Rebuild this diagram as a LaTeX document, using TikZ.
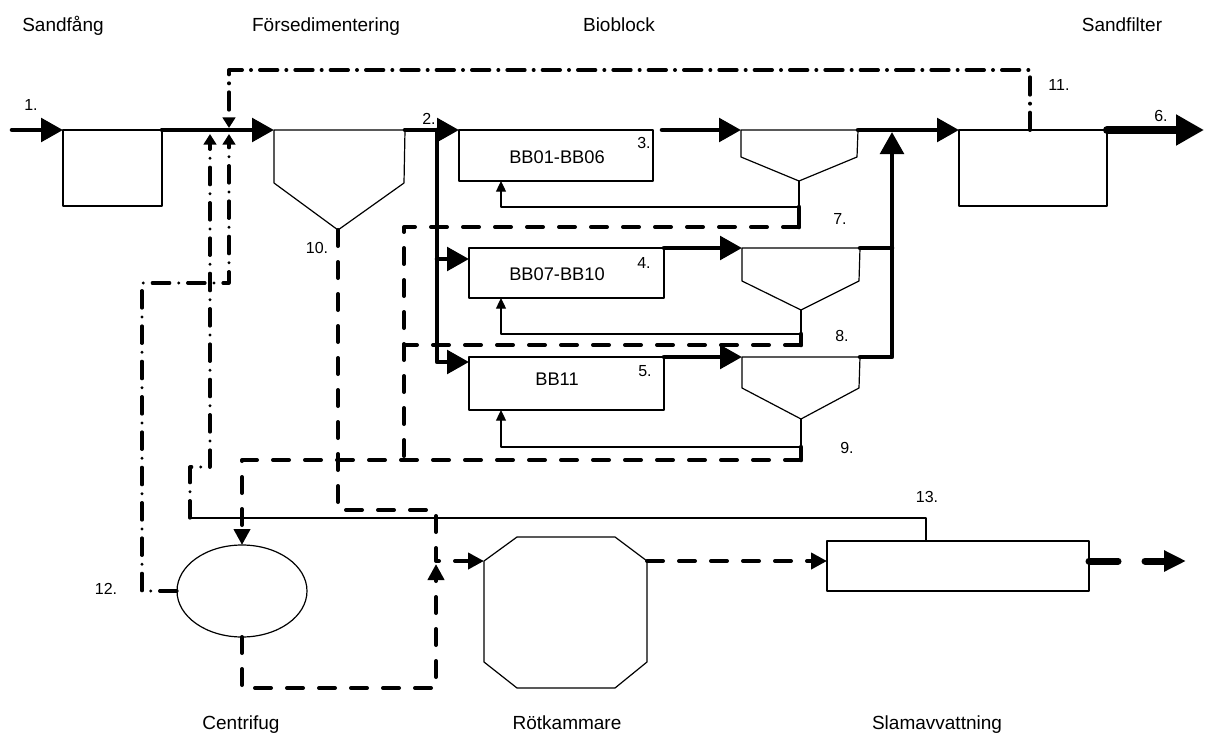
\documentclass[tikz,border=0pt]{standalone}
\usepackage{fontspec}
\setmainfont{Liberation Sans}
\usetikzlibrary{arrows.meta,shapes.geometric}
\begin{document}
\begin{tikzpicture}[x=0.75pt,y=-0.75pt,
  line join=round,
  thinl/.style={line width=0.9pt},
  boxwh/.style 2 args={draw,line width=0.9pt,inner sep=0pt,outer sep=0pt,minimum width=#1*0.75pt,minimum height=#2*0.75pt,anchor=north west},
  flow/.style={line width=3.4pt,line cap=round},
  flowarr/.style={flow,-{Triangle[length=16.5pt,width=17.5pt]}},
  sludge/.style={line width=3pt,line cap=round,dash pattern=on 12pt off 12pt},
  sludgearr/.style={sludge,-{Triangle[length=12pt,width=12pt]}},
  ddash/.style={line width=2.4pt,line cap=round,dash pattern=on 13pt off 6.75pt on 0pt off 6.75pt},
  ddarr/.style={ddash,-{Triangle[length=8pt,width=9.5pt]}},
  recyc/.style={thinl,-{Triangle[length=8pt,width=7.5pt]}},
  lbl/.style={font=\fontsize{14.25}{16}\selectfont,inner sep=0pt,anchor=base},
  num/.style={font=\fontsize{12}{14}\selectfont,inner sep=0pt},
  boxtxt/.style={font=\fontsize{13.7}{16}\selectfont,inner sep=0pt},
]
\useasboundingbox (0,0) rectangle (1217,749);

% ---------- top / bottom labels
\node[lbl] (l-sf) at (63,32) {Sandfång};
\node[lbl] (l-fs) at (326,32) {Försedimentering};
\node[lbl] (l-bio) at (619,32) {Bioblock};
\node[lbl] (l-sfil) at (1122,32) {Sandfilter};
\node[lbl] (l-cf) at (241,729) {Centrifug};
\node[lbl] (l-rk) at (567,729) {Rötkammare};
\node[lbl] (l-slam) at (937,729) {Slamavvattning};

% ---------- boxes
\node[boxwh={99}{76}] (sf) at (63,130) {};
\node[boxwh={194}{51}] (bb1) at (459,130) {};
\node[boxwh={195}{50}] (bb2) at (469,248) {};
\node[boxwh={195}{53}] (bb3) at (469,357) {};
\node[boxwh={148}{76}] (sfil) at (959,130) {};
\node[boxwh={262}{50}] (slam) at (827,541) {};
\node[draw,thinl,ellipse,inner sep=0pt,outer sep=0pt,minimum width=97.5pt,minimum height=69pt] (cf) at (242,591) {};

\node[boxtxt] (t-bb1) at (557,157) {BB01-BB06};
\node[boxtxt] (t-bb2) at (557,274) {BB07-BB10};
\node[boxtxt] (t-bb3) at (557,379) {BB11};

% ---------- Försedimentering funnel
\coordinate (fs-nw) at (274,130);
\coordinate (fs-ne) at (405,130);
\coordinate (fs-se) at (404,183);
\coordinate (fs-b) at (338,230);
\coordinate (fs-sw) at (274,183);
\draw[thinl] (fs-nw) -- (fs-ne) -- (fs-se) -- (fs-b) -- (fs-sw) -- cycle;

% ---------- settlers
\coordinate (st1-nw) at (741,130);
\coordinate (st1-ne) at (858,130);
\coordinate (st1-se) at (857,157);
\coordinate (st1-b) at (799,181);
\coordinate (st1-sw) at (741,157);
\coordinate (st1-r) at (799,207);
\coordinate (st1-d) at (799,227);
\draw[thinl] (st1-nw) -- (st1-ne) -- (st1-se) -- (st1-b) -- (st1-sw) -- cycle;

\coordinate (st2-nw) at (742,248);
\coordinate (st2-ne) at (860,248);
\coordinate (st2-se) at (859,281);
\coordinate (st2-b) at (801,310);
\coordinate (st2-sw) at (742,281);
\coordinate (st2-r) at (801,334);
\coordinate (st2-d) at (801,345);
\draw[thinl] (st2-nw) -- (st2-ne) -- (st2-se) -- (st2-b) -- (st2-sw) -- cycle;

\coordinate (st3-nw) at (742,357);
\coordinate (st3-ne) at (860,357);
\coordinate (st3-se) at (859,388);
\coordinate (st3-b) at (801,419);
\coordinate (st3-sw) at (742,388);
\coordinate (st3-r) at (801,447);
\coordinate (st3-d) at (801,460);
\draw[thinl] (st3-nw) -- (st3-ne) -- (st3-se) -- (st3-b) -- (st3-sw) -- cycle;

% ---------- Rötkammare (octagon)
\coordinate (rk1) at (517,537);
\coordinate (rk2) at (615,537);
\coordinate (rk-out) at (647,561);
\coordinate (rk4) at (647,662);
\coordinate (rk5) at (615,688);
\coordinate (rk6) at (517,688);
\coordinate (rk7) at (484,662);
\coordinate (rk-in) at (484,561);
\draw[thinl] (rk1) -- (rk2) -- (rk-out) -- (rk4) -- (rk5) -- (rk6) -- (rk7) -- (rk-in) -- cycle;

% ---------- main water flow
\coordinate (in) at (12,130);
\coordinate (split) at (437,130);
\coordinate (s2) at (437,259);
\coordinate (s3) at (437,362);
\coordinate (o1) at (662,130);
\coordinate (j2) at (892,248);
\coordinate (j3) at (892,357);
\coordinate (jt) at (892,132);
\coordinate (out6) at (1204,130);

\draw[flowarr] (in) -- (sf.north west);
\draw[flowarr] (sf.north east) -- (fs-nw);
\draw[flowarr] (fs-ne) -- (bb1.north west);
\draw[flowarr] (split) -- (s3) -- (bb3.west |- s3);
\draw[flowarr] (s2) -- (bb2.west |- s2);
\draw[flowarr] (o1) -- (st1-nw);
\draw[flowarr] (bb2.north east) -- (st2-nw);
\draw[flowarr] (bb3.north east) -- (st3-nw);
\draw[flowarr] (st1-ne) -- (sfil.north west);
\draw[flow] (st2-ne) -- (j2);
\draw[flowarr] (st3-ne) -- (j3) -- (jt);
\draw[line width=6pt,line cap=round,-{Triangle[length=21pt,width=22pt]}] (sfil.north east) -- (out6);

% ---------- return sludge (thin)
\coordinate (rc1) at (501,207);
\coordinate (rc2) at (501,334);
\coordinate (rc3) at (501,447);
\draw[thinl] (st1-b) -- (st1-r);
\draw[thinl] (st2-b) -- (st2-r);
\draw[thinl] (st3-b) -- (st3-r);
\draw[recyc] (st1-r) -- (rc1) -- (rc1 |- bb1.south);
\draw[recyc] (st2-r) -- (rc2) -- (rc2 |- bb2.south);
\draw[recyc] (st3-r) -- (rc3) -- (rc3 |- bb3.south);

% ---------- excess sludge (thick dashed)
\coordinate (c7) at (404,227);
\coordinate (c8) at (404,345);
\coordinate (cb) at (404,460);
\coordinate (cc) at (242,460);
\draw[flow] (st1-r) -- (st1-d);
\draw[flow] (st2-r) -- (st2-d);
\draw[flow] (st3-r) -- (st3-d);
\draw[sludge] (st1-d) -- (c7) -- (cb);
\draw[sludge] (st2-d) -- (c8);
\draw[sludgearr] (st3-d) -- (cc) -- (cf.north);

\coordinate (t10a) at (338,510);
\coordinate (t10b) at (436,510);
\coordinate (t10c) at (436,561);
\draw[sludgearr] (fs-b) -- (t10a) -- (t10b) -- (t10c) -- (rk-in);

\coordinate (co1) at (242,688);
\coordinate (co2) at (436,688);
\coordinate (co3) at (436,564);
\draw[sludgearr] (cf.south) -- (co1) -- (co2) -- (co3);

\coordinate (slam-in) at (827,561);
\draw[sludgearr] (rk-out) -- (slam-in);

\coordinate (slam-out) at (1089,561);
\coordinate (out-sl) at (1186,561);
\draw[line width=5.25pt,line cap=round,dash pattern=on 21.75pt off 20.25pt,-{Triangle[length=16.5pt,width=15pt]}] (slam-out) -- (out-sl);

% ---------- reject water (dash-dot)
\coordinate (d11a) at (1030,130);
\coordinate (d11b) at (1030,70);
\coordinate (d11c) at (229,70);
\coordinate (d11d) at (229,128);
\draw[ddarr,line width=3pt] (d11a) -- (d11b) -- (d11c) -- (d11d);

\coordinate (d12a) at (142,591);
\coordinate (d12b) at (142,283);
\coordinate (d12c) at (229,283);
\coordinate (d12d) at (229,134);
\draw[ddarr] (cf.west) -- (d12a) -- (d12b) -- (d12c) -- (d12d);

\coordinate (d13a) at (926,518);
\coordinate (d13b) at (190,518);
\coordinate (d13c) at (190,467);
\coordinate (d13d) at (210,467);
\coordinate (d13e) at (210,134);
\draw[thinl] (slam.north -| d13a) -- (d13a) -- (d13b);
\draw[ddarr] (d13b) -- (d13c) -- (d13d) -- (d13e);

% ---------- numbers
\node[num] (n1) at (31,105) {1.};
\node[num] (n2) at (429,119) {2.};
\node[num] (n3) at (644,143) {3.};
\node[num] (n4) at (644,263) {4.};
\node[num] (n5) at (645,371) {5.};
\node[num] (n6) at (1161,116) {6.};
\node[num] (n7) at (840,219) {7.};
\node[num] (n8) at (842,336) {8.};
\node[num] (n9) at (847,448) {9.};
\node[num] (n10) at (317,248) {10.};
\node[num] (n11) at (1059,85) {11.};
\node[num] (n12) at (106,589) {12.};
\node[num] (n13) at (927,497) {13.};
\end{tikzpicture}
\end{document}
